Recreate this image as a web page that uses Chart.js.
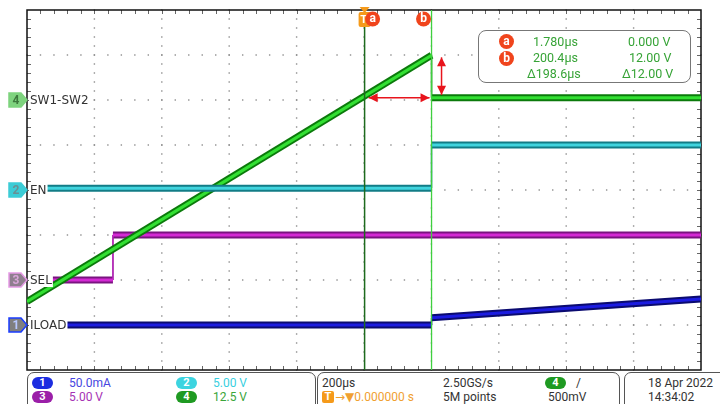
<!DOCTYPE html>
<html>
<head>
<meta charset="utf-8">
<script src="https://cdn.jsdelivr.net/npm/chart.js@4.4.1/dist/chart.umd.min.js"></script>
<style>
html, body { margin: 0; padding: 0; background: #fff; }
body { width: 720px; height: 404px; position: relative; overflow: hidden; font-family: Roboto, "DejaVu Sans", sans-serif; }
#wrap { position: absolute; left: 0; top: 0; width: 720px; height: 372px; }
.t { position: absolute; white-space: nowrap; font-size: 12px; line-height: 14px; color: #333; }
.pill { position: absolute; width: 21px; height: 12px; border-radius: 6px; color: #fff; font-size: 11px; font-weight: bold; line-height: 12px; text-align: center; }
.box { position: absolute; top: 372px; height: 44px; border: 1.5px solid #555; border-radius: 7px; box-sizing: border-box; }
#readout { position: absolute; left: 478px; top: 30px; width: 213px; height: 53px; border: 1.5px solid #777; border-radius: 8px; background: #fff; box-sizing: border-box; }
.g { color: #36a336; font-size: 12.5px; }
.dot { position: absolute; width: 15px; height: 15px; border-radius: 50%; background: #f0441c; color: #fff; font-size: 12px; font-weight: bold; line-height: 14px; text-align: center; }
</style>
</head>
<body>
<div id="wrap"><canvas id="scope" width="720" height="372"></canvas></div>

<div id="readout"></div>
<div class="dot" style="left:499px;top:34px">a</div>
<div class="dot" style="left:499px;top:51px">b</div>
<div class="t g" style="left:533px;top:35px">1.780µs</div>
<div class="t g" style="left:628px;top:35px">0.000 V</div>
<div class="t g" style="left:533px;top:51px">200.4µs</div>
<div class="t g" style="left:629px;top:51px">12.00 V</div>
<div class="t g" style="left:527px;top:67px">Δ198.6µs</div>
<div class="t g" style="left:622px;top:67px">Δ12.00 V</div>

<!-- status bar -->
<div class="box" style="left:27px;width:289px"></div>
<div class="box" style="left:317px;width:303px"></div>
<div class="box" style="left:624px;width:110px"></div>

<div class="pill" style="left:32px;top:377px;background:#1c2de0">1</div>
<div class="t" style="left:69px;top:376px;color:#4646e0">50.0mA</div>
<div class="pill" style="left:176px;top:377px;background:#3cd4e0">2</div>
<div class="t" style="left:213px;top:376px;color:#38cfe0">5.00 V</div>
<div class="pill" style="left:32px;top:391px;background:#9b1fa8">3</div>
<div class="t" style="left:69px;top:390px;color:#a632b4">5.00 V</div>
<div class="pill" style="left:176px;top:391px;background:#1f9a22">4</div>
<div class="t" style="left:213px;top:390px;color:#3aa53a">12.5 V</div>

<div class="t" style="left:322px;top:376px">200µs</div>
<div class="pill" style="left:322px;top:391px;width:12px;border-radius:2px;background:#f59a1a">T</div>
<div class="t" style="left:335px;top:390px;color:#f0a030">→▼0.000000 s</div>
<div class="t" style="left:443px;top:376px">2.50GS/s</div>
<div class="t" style="left:443px;top:390px">5M points</div>
<div class="pill" style="left:545px;top:377px;background:#1f9a22">4</div>
<div class="t" style="left:576px;top:376px">/</div>
<div class="t" style="left:548px;top:390px">500mV</div>
<div class="t" style="left:648px;top:376px">18 Apr  2022</div>
<div class="t" style="left:648px;top:390px">14:34:02</div>

<script>
// horizontal: 200 µs/div, 10 div, trigger in the middle
const timeTicksUs = [-1000, -800, -600, -400, -200, 0, 200, 400, 600, 800, 1000];
const divTicks = [-4, -3, -2, -1, 0, 1, 2, 3, 4];

// ch4 SW1-SW2 (V)
const swTimeUs = [-1000, 200.4, 200.4, 1000];
const swVolts = [-56, 12.4, 0.6, 0.6];
// ch2 EN (V)
const enTimeUs = [-950, 200.4, 200.4, 1000];
const enVolts = [0.2, 0.2, 5, 5];
// ch3 SEL (V)
const selTimeUs = [-940, -745, -745, 1000];
const selVolts = [0, 0, 5, 5];
// ch1 ILOAD (mA)
const iloadTimeUs = [-893, 200.4, 200.4, 1000];
const iloadMa = [0, 0, 8, 29];

// cursors a / b
const cursorTimesUs = [1.78, 200.4];

// channel vertical settings: units per div, offset in div
const chPerDiv = { ch1: 50, ch2: 5, ch3: 5, ch4: 12.5 };
const chOffsetDiv = { ch1: -3, ch2: 0, ch3: -2, ch4: 2 };

function axisFor(ch) {
  return {
    display: false,
    min: (-4 - chOffsetDiv[ch]) * chPerDiv[ch],
    max: (4 - chOffsetDiv[ch]) * chPerDiv[ch]
  };
}

function pts(xs, ys) {
  return xs.map((x, i) => ({ x: x, y: ys[i] }));
}

// each trace = dark edge under a bright core; vertical edges are thin like on the scope
function trace(xs, ys, axis, edge, core, order) {
  const data = pts(xs, ys);
  const vert = (c) => c.p0.parsed.x === c.p1.parsed.x;
  return [
    { data: data, yAxisID: axis, borderColor: core, borderWidth: 3, order: order,
      segment: { borderWidth: c => vert(c) ? 1 : 3 } },
    { data: data, yAxisID: axis, borderColor: edge, borderWidth: 7, order: order + 1,
      segment: { borderWidth: c => vert(c) ? 1.5 : 7 } }
  ];
}

function arrow(ctx, x1, y1, x2, y2) {
  const ang = Math.atan2(y2 - y1, x2 - x1);
  ctx.beginPath();
  ctx.moveTo(x1, y1);
  ctx.lineTo(x2, y2);
  ctx.stroke();
  [[x1, y1, ang + Math.PI], [x2, y2, ang]].forEach(([x, y, a]) => {
    ctx.beginPath();
    ctx.moveTo(x, y);
    ctx.lineTo(x - 9 * Math.cos(a) + 4.5 * Math.sin(a), y - 9 * Math.sin(a) - 4.5 * Math.cos(a));
    ctx.lineTo(x - 9 * Math.cos(a) - 4.5 * Math.sin(a), y - 9 * Math.sin(a) + 4.5 * Math.cos(a));
    ctx.closePath();
    ctx.fill();
  });
}

const gridPlugin = {
  id: 'scopeGrid',
  beforeDatasetsDraw(chart) {
    const { ctx, chartArea: a, scales } = chart;
    const x = scales.x, y = scales.y;
    ctx.save();
    ctx.fillStyle = '#8c8c8c';
    divTicks.slice(1, -1).forEach(d => {
      const py = y.getPixelForValue(d);
      for (let k = 0; k <= 50; k++) {
        ctx.fillRect(x.getPixelForValue(-1000 + k * 40) - 0.7, py - 0.7, 1.4, 1.4);
      }
    });
    timeTicksUs.slice(1, -1).forEach(t => {
      const px = x.getPixelForValue(t);
      for (let k = 0; k <= 40; k++) {
        ctx.fillRect(px - 0.7, y.getPixelForValue(-4 + k * 0.2) - 0.7, 1.4, 1.4);
      }
    });
    // small ticks round the frame
    ctx.strokeStyle = '#666';
    ctx.lineWidth = 1;
    ctx.beginPath();
    for (let k = 1; k < 50; k++) {
      const px = Math.round(x.getPixelForValue(-1000 + k * 40)) + 0.5;
      ctx.moveTo(px, a.top); ctx.lineTo(px, a.top + 4);
      ctx.moveTo(px, a.bottom); ctx.lineTo(px, a.bottom - 4);
    }
    for (let k = 1; k < 40; k++) {
      const py = Math.round(y.getPixelForValue(-4 + k * 0.2)) + 0.5;
      ctx.moveTo(a.left, py); ctx.lineTo(a.left + 4, py);
      ctx.moveTo(a.right, py); ctx.lineTo(a.right - 4, py);
    }
    ctx.stroke();
    ctx.strokeStyle = '#111';
    ctx.lineWidth = 1.5;
    ctx.strokeRect(a.left, a.top, a.width, a.height);
    ctx.restore();
  }
};

const markPlugin = {
  id: 'scopeMarks',
  afterDatasetsDraw(chart) {
    const { ctx, chartArea: a, scales } = chart;
    const x = scales.x;
    const pa = x.getPixelForValue(cursorTimesUs[0]);
    const pb = x.getPixelForValue(cursorTimesUs[1]);
    ctx.save();

    // cursors
    ctx.lineWidth = 1.5;
    ctx.strokeStyle = '#1e6b1e';
    ctx.beginPath(); ctx.moveTo(pa, 26); ctx.lineTo(pa, a.bottom); ctx.stroke();
    ctx.lineWidth = 1.3;
    ctx.strokeStyle = '#3fcf3f';
    ctx.beginPath(); ctx.moveTo(pb, a.top); ctx.lineTo(pb, a.bottom); ctx.stroke();

    // delta arrows
    const y4 = scales.yCh4;
    const yLow = y4.getPixelForValue(swVolts[2]);
    const yHigh = y4.getPixelForValue(swVolts[1]);
    ctx.strokeStyle = '#e8141c';
    ctx.fillStyle = '#e8141c';
    ctx.lineWidth = 1.5;
    arrow(ctx, pa + 4, yLow, pb - 2, yLow);
    arrow(ctx, pb + 10, yHigh + 2, pb + 10, yLow - 3);

    // trigger marker and cursor badges on top
    ctx.fillStyle = '#f59a1a';
    ctx.beginPath();
    ctx.moveTo(pa - 5, 7); ctx.lineTo(pa + 5, 7); ctx.lineTo(pa, 13); ctx.closePath(); ctx.fill();
    ctx.beginPath();
    ctx.roundRect(pa - 6, 12, 12, 15, 2);
    ctx.fill();
    ctx.fillStyle = '#fff';
    ctx.font = 'bold 11px Roboto, sans-serif';
    ctx.textAlign = 'center';
    ctx.textBaseline = 'middle';
    ctx.fillText('T', pa - 1, 20);
    [[pa + 8, 'a'], [pb - 8, 'b']].forEach(([cx, s]) => {
      ctx.fillStyle = '#f0441c';
      ctx.beginPath(); ctx.arc(cx, 19, 7.5, 0, Math.PI * 2); ctx.fill();
      ctx.fillStyle = '#fff';
      ctx.font = 'bold 12px Roboto, sans-serif';
      ctx.fillText(s, cx, 19);
    });

    // channel ground tags and names (names sit on a white patch, covering the trace start)
    const tags = [
      ['yCh4', '4', 'SW1-SW2', '#7ed37e', '#7ed37e', '#3c783c'],
      ['yCh2', '2', 'EN', '#3cccd6', '#3cccd6', '#6a8f94'],
      ['yCh3', '3', 'SEL', '#8f7f8f', '#e59ae5', '#d9a6d9'],
      ['yCh1', '1', 'ILOAD', '#7f7f7f', '#1a3cff', '#b8c8ff']
    ];
    tags.forEach(([axis, n, name, fill, edge, txt]) => {
      const yy = scales[axis].getPixelForValue(0);
      ctx.beginPath();
      ctx.moveTo(9, yy - 7); ctx.lineTo(21, yy - 7); ctx.lineTo(27, yy);
      ctx.lineTo(21, yy + 7); ctx.lineTo(9, yy + 7); ctx.closePath();
      ctx.fillStyle = fill; ctx.fill();
      ctx.strokeStyle = edge; ctx.lineWidth = 1.5; ctx.stroke();
      ctx.fillStyle = txt;
      ctx.font = 'bold 12px Roboto, sans-serif';
      ctx.textAlign = 'center';
      ctx.fillText(n, 16, yy + 0.5);
      ctx.font = '12px "DejaVu Sans", sans-serif';
      ctx.textAlign = 'left';
      const w = ctx.measureText(name).width;
      ctx.fillStyle = '#fff';
      ctx.fillRect(29, yy - 7, w + 2, 14);
      ctx.fillStyle = '#333';
      ctx.fillText(name, 30, yy + 0.5);
    });
    ctx.restore();
  }
};

new Chart(document.getElementById('scope'), {
  type: 'line',
  data: {
    datasets: [
      ...trace(enTimeUs, enVolts, 'yCh2', '#127c86', '#40d4de', 1),
      ...trace(swTimeUs, swVolts, 'yCh4', '#0b7a0b', '#33e033', 3),
      ...trace(selTimeUs, selVolts, 'yCh3', '#7a1480', '#d42ad4', 5),
      ...trace(iloadTimeUs, iloadMa, 'yCh1', '#0b0b70', '#1c1ce0', 7)
    ]
  },
  options: {
    responsive: false,
    animation: false,
    layout: { padding: { left: 27, right: 19, top: 10, bottom: 2 } },
    elements: {
      point: { radius: 0 },
      line: { tension: 0, fill: false, borderJoinStyle: 'bevel', borderCapStyle: 'butt' }
    },
    scales: {
      x: { type: 'linear', display: false, min: -1000, max: 1000 },
      y: { display: false, min: -4, max: 4 },
      yCh1: axisFor('ch1'),
      yCh2: axisFor('ch2'),
      yCh3: axisFor('ch3'),
      yCh4: axisFor('ch4')
    },
    plugins: { legend: { display: false }, tooltip: { enabled: false } }
  },
  plugins: [gridPlugin, markPlugin]
});
</script>
</body>
</html>
